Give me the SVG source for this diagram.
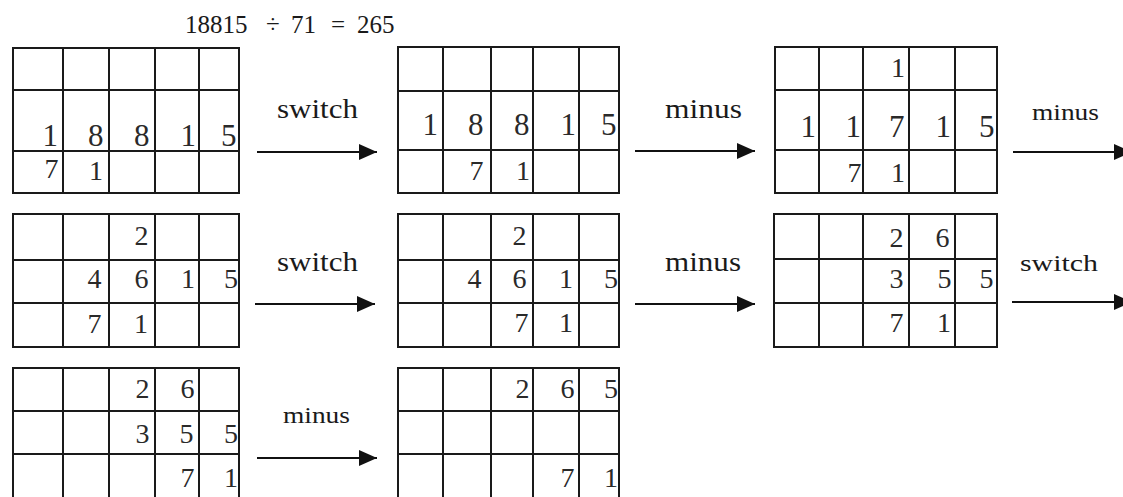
<svg xmlns="http://www.w3.org/2000/svg" width="1123" height="497" viewBox="0 0 1123 497">
<defs>
<style>
.g{fill:none;stroke:#1a1a1a;stroke-width:2}
.d{font-size:28px;fill:#2a2a2a;text-anchor:end}
.dl{font-size:31px}
.lb{font-size:28px;fill:#1a1a1a}
.ls{font-size:24px}
.t{font-size:25px;fill:#1a1a1a}
.a{stroke:#111;stroke-width:2.2;fill:none;marker-end:url(#ah)}
</style>
<marker id="ah" markerUnits="userSpaceOnUse" markerWidth="20" markerHeight="18" refX="18" refY="8" orient="auto" viewBox="0 0 20 16">
<path d="M0,0 L18,8 L0,16 Z" fill="#111"/>
</marker>
</defs>
<rect width="1123" height="497" fill="#fff"/>
<g font-family="'Liberation Serif', 'DejaVu Serif', 'Times New Roman', serif">

<text class="t" y="33"><tspan x="185">18815</tspan><tspan x="266">÷</tspan><tspan x="291">71</tspan><tspan x="331">=</tspan><tspan x="357">265</tspan></text>

<g id="grid1">
<path class="g" d="M13,48H239V193H13Z M63,48V193 M109,48V193 M155,48V193 M199,48V193 M13,90H239 M13,151H239"/>
<text class="d dl" x="58" y="146">1</text><text class="d dl" x="103.5" y="146">8</text><text class="d dl" x="149.5" y="146">8</text><text class="d dl" x="196" y="146">1</text><text class="d dl" x="236.5" y="146">5</text>
<text class="d" x="58.5" y="178">7</text><text class="d" x="103" y="180">1</text>
</g>

<g id="grid2">
<path class="g" d="M398,47H619V193H398Z M443,47V193 M491,47V193 M533,47V193 M579,47V193 M398,91H619 M398,150H619"/>
<text class="d dl" x="438" y="135">1</text><text class="d dl" x="483.5" y="135">8</text><text class="d dl" x="529.5" y="135">8</text><text class="d dl" x="576" y="135">1</text><text class="d dl" x="616.5" y="135">5</text>
<text class="d" x="483.5" y="180">7</text><text class="d" x="530" y="180">1</text>
</g>

<g id="grid3">
<path class="g" d="M775,47H997V193H775Z M819,47V193 M863,47V193 M909,47V193 M955,47V193 M775,90H997 M775,150H997"/>
<text class="d" x="905" y="77">1</text>
<text class="d dl" x="816" y="137">1</text><text class="d dl" x="861" y="137">1</text><text class="d dl" x="904.5" y="137">7</text><text class="d dl" x="951" y="137">1</text><text class="d dl" x="994.5" y="137">5</text>
<text class="d" x="861.5" y="182">7</text><text class="d" x="905" y="182">1</text>
</g>

<g id="grid4">
<path class="g" d="M13,214H239V347H13Z M63,214V347 M109,214V347 M155,214V347 M199,214V347 M13,260H239 M13,303H239"/>
<text class="d" x="148.5" y="245">2</text>
<text class="d" x="101.5" y="288">4</text><text class="d" x="148.5" y="288">6</text><text class="d" x="195" y="288">1</text><text class="d" x="238" y="288">5</text>
<text class="d" x="101.5" y="333">7</text><text class="d" x="148" y="333">1</text>
</g>

<g id="grid5">
<path class="g" d="M398,214H619V347H398Z M443,214V347 M491,214V347 M533,214V347 M579,214V347 M398,260H619 M398,303H619"/>
<text class="d" x="526.5" y="245">2</text>
<text class="d" x="481.5" y="288">4</text><text class="d" x="526.5" y="288">6</text><text class="d" x="573" y="288">1</text><text class="d" x="618" y="288">5</text>
<text class="d" x="528.5" y="332">7</text><text class="d" x="573" y="332">1</text>
</g>

<g id="grid6">
<path class="g" d="M774,214H997V347H774Z M819,214V347 M863,214V347 M909,214V347 M955,214V347 M774,259H997 M774,303H997"/>
<text class="d" x="903.5" y="247">2</text><text class="d" x="949.5" y="247">6</text>
<text class="d" x="903.5" y="288">3</text><text class="d" x="951.5" y="288">5</text><text class="d" x="993.5" y="288">5</text>
<text class="d" x="903.5" y="332">7</text><text class="d" x="951" y="332">1</text>
</g>

<g id="grid7">
<path class="g" d="M13,502V368H239V502 M63,368V502 M109,368V502 M155,368V502 M199,368V502 M13,411H239 M13,454H239"/>
<text class="d" x="149.5" y="398">2</text><text class="d" x="194.5" y="398">6</text>
<text class="d" x="149.5" y="443">3</text><text class="d" x="193.5" y="443">5</text><text class="d" x="238" y="443">5</text>
<text class="d" x="194.5" y="487">7</text><text class="d" x="238" y="487">1</text>
</g>

<g id="grid8">
<path class="g" d="M398,502V368H619V502 M443,368V502 M491,368V502 M533,368V502 M579,368V502 M398,411H619 M398,454H619"/>
<text class="d" x="529.5" y="398">2</text><text class="d" x="574.5" y="398">6</text><text class="d" x="618" y="398">5</text>
<text class="d" x="574.5" y="487">7</text><text class="d" x="618" y="487">1</text>
</g>

<g id="connectors">
<line class="a" x1="257" y1="152" x2="377" y2="152"/>
<line class="a" x1="635" y1="151" x2="755" y2="151"/>
<line class="a" x1="1013" y1="152" x2="1132" y2="152"/>
<line class="a" x1="255" y1="304" x2="375" y2="304"/>
<line class="a" x1="635" y1="304" x2="755" y2="304"/>
<line class="a" x1="1012" y1="302" x2="1132" y2="302"/>
<line class="a" x1="257" y1="458" x2="377" y2="458"/>
<text class="lb" x="277" y="118" textLength="81" lengthAdjust="spacingAndGlyphs">switch</text>
<text class="lb" x="665" y="118" textLength="77" lengthAdjust="spacingAndGlyphs">minus</text>
<text class="lb ls" x="1032" y="120" textLength="67" lengthAdjust="spacingAndGlyphs">minus</text>
<text class="lb" x="277" y="271" textLength="81" lengthAdjust="spacingAndGlyphs">switch</text>
<text class="lb" x="665" y="271" textLength="76" lengthAdjust="spacingAndGlyphs">minus</text>
<text class="lb ls" x="1020" y="271" textLength="78" lengthAdjust="spacingAndGlyphs">switch</text>
<text class="lb ls" x="283" y="423" textLength="67" lengthAdjust="spacingAndGlyphs">minus</text>
</g>
</g>
</svg>
